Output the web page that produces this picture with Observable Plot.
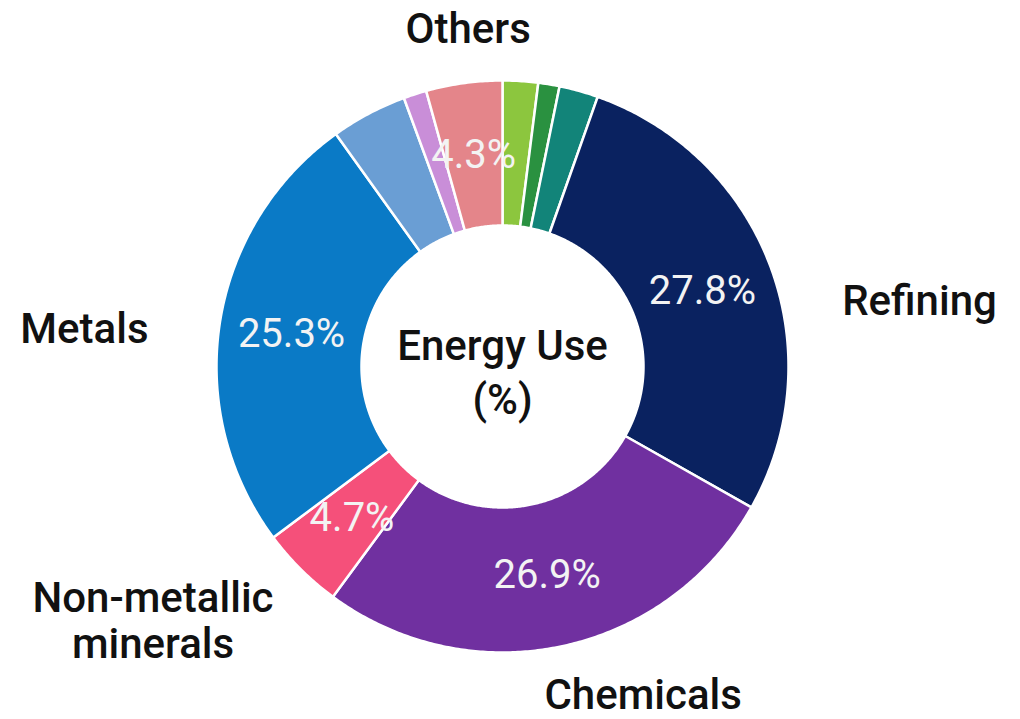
<!DOCTYPE html>
<html>
<head>
<meta charset="utf-8">
<script src="https://cdn.jsdelivr.net/npm/d3@7"></script>
<script src="https://cdn.jsdelivr.net/npm/@observablehq/plot@0.6"></script>
<style>
  html, body { margin: 0; padding: 0; background: #fff; }
  #chart svg { display: block; }
</style>
</head>
<body>
<div id="chart"></div>
<script>
// Industrial energy use by sector (%), slices listed clockwise from 12 o'clock
const sectors = ["Other A", "Other B", "Other C", "Refining", "Chemicals",
                 "Non-metallic minerals", "Metals", "Other D", "Other E", "Other F"];
const shares = [2.0, 1.2, 2.2, 27.8, 26.9, 4.7, 25.3, 4.3, 1.3, 4.3];
const groups = ["Others", "Others", "Others", "Refining", "Chemicals",
                "Non-metallic\nminerals", "Metals", "Others", "Others", "Others"];
const colors = ["#8cc63e", "#2a9140", "#128479", "#0a2260", "#7030a0",
                "#f5507a", "#0a7ac6", "#6a9ed4", "#c98ed8", "#e4858a"];
const labelled = [false, false, false, true, true, true, true, false, false, true];
const centerTitle = "Energy Use\n(%)";

// Ring geometry (pixels) and where each group label sits around the ring
const W = 1020, H = 719;
const cx = 502, cy = 366, rOuter = 286, rInner = 141;
const groupLabelLayout = {
  "Others":                 {angle: 354.2, radius: 340, anchor: "middle"},
  "Refining":               {angle: 79.0,  radius: 346, anchor: "start"},
  "Chemicals":              {angle: 156.8, radius: 357, anchor: "middle"},
  "Non-metallic\nminerals": {angle: 234.0, radius: 432, anchor: "middle"},
  "Metals":                 {angle: 276.1, radius: 356, anchor: "end"}
};

const rows = sectors.map((s, i) => ({
  sector: s, share: shares[i], group: groups[i], color: colors[i], labelled: labelled[i]
}));
const arcs = d3.pie().sort(null).value(d => d.share)(rows);

const polar = (a, r) => [cx + r * Math.sin(a), cy - r * Math.cos(a)];

// Each slice as a closed polygon: outer arc forward, inner arc back
const ringPoints = arcs.flatMap((arc, i) => {
  const {startAngle: a0, endAngle: a1} = arc;
  const n = Math.max(2, Math.ceil((a1 - a0) / (Math.PI / 360)));
  const pts = [];
  for (let k = 0; k <= n; ++k) pts.push(polar(a0 + (a1 - a0) * k / n, rOuter));
  for (let k = n; k >= 0; --k) pts.push(polar(a0 + (a1 - a0) * k / n, rInner));
  return pts.map(([x, y]) => ({slice: i, color: arc.data.color, x, y}));
});

// Value labels at each slice's mid angle, halfway across the ring
const valueLabels = arcs.filter(a => a.data.labelled).map(a => {
  const [x, y] = polar((a.startAngle + a.endAngle) / 2, (rOuter + rInner) / 2);
  return {x, y, text: d3.format(".1f")(a.data.share) + "%"};
});

// Group names outside the ring
const groupLabels = Object.entries(groupLabelLayout).map(([name, p]) => {
  const [x, y] = polar(p.angle * Math.PI / 180, p.radius);
  return {x, y, text: name, anchor: p.anchor};
});

const font = "Roboto, 'Noto Sans', sans-serif";

const chart = Plot.plot({
  width: W,
  height: H,
  margin: 0,
  x: {domain: [0, W], range: [0, W], axis: null},
  y: {domain: [0, H], range: [0, H], axis: null},
  color: {type: "identity"},
  style: {fontFamily: font, background: "#fff"},
  marks: [
    Plot.line(ringPoints, {
      x: "x", y: "y", z: "slice", fill: "color",
      stroke: "white", strokeWidth: 2.5, curve: "linear-closed"
    }),
    Plot.text(valueLabels, {
      x: "x", y: "y", text: "text", fill: "#f3f3f3",
      fontSize: 40, fontFamily: font
    }),
    ...["start", "middle", "end"].map(anchor =>
      Plot.text(groupLabels.filter(d => d.anchor === anchor), {
        x: "x", y: "y", text: "text", textAnchor: anchor,
        fill: "#111", fontSize: 42, fontWeight: 500, fontFamily: font, lineHeight: 1.08
      })
    ),
    Plot.text([centerTitle], {
      x: () => cx, y: () => cy + 3, text: d => d,
      fill: "#111", fontSize: 42, fontWeight: 500, fontFamily: font, lineHeight: 1.28
    })
  ]
});

document.getElementById("chart").append(chart);
</script>
</body>
</html>
